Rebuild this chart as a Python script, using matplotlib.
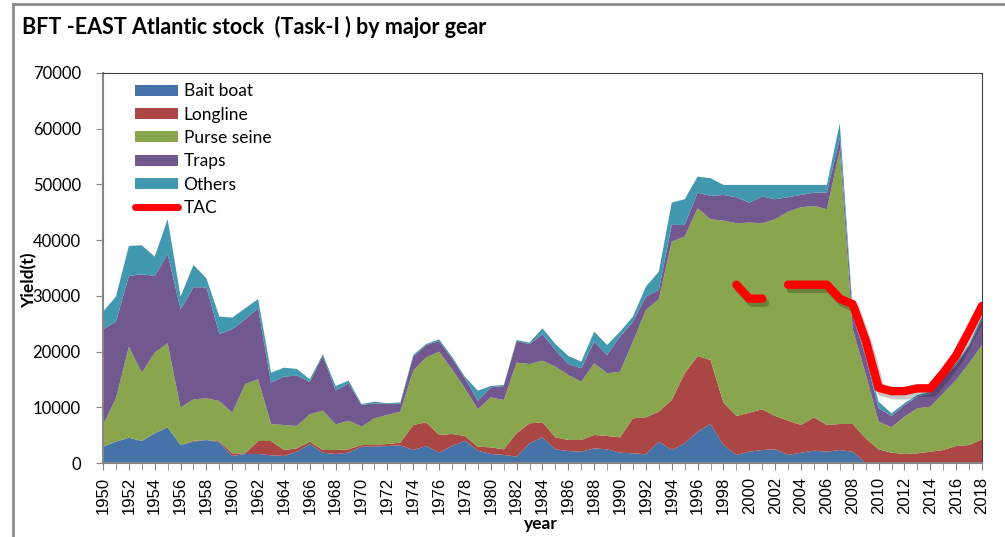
import numpy as np
import matplotlib
matplotlib.use("Agg")
import matplotlib.pyplot as plt
import matplotlib.patheffects as pe
from matplotlib.lines import Line2D
from matplotlib.patches import Patch

# catch by gear, tonnes
years = np.arange(1950, 2019)

bait_boat = [2930, 3830, 4540, 3950, 5330, 6410, 3230, 3830, 4130, 3710,
             1260, 1620, 1620, 1380, 1260, 2030, 3410, 1850, 1620, 1850,
             2930, 2930, 3050, 3170, 2330, 3050, 1850, 3050, 4000, 2210,
             1620, 1440, 1140, 3530, 4610, 2450, 2150, 2030, 2630, 2450,
             1850, 1740, 1560, 3830, 2330, 3530, 5620, 7000, 3230, 1440,
             2030, 2330, 2450, 1440, 1850, 2210, 2030, 2330, 2000, 0,
             0, 0, 0, 0, 0, 0, 0, 0, 0]
longline = [0, 0, 0, 0, 0, 0, 0, 170, 0, 190,
            480, 120, 2330, 2570, 1070, 600, 420, 480, 710, 600,
            300, 300, 360, 480, 4490, 4250, 3180, 2160, 850, 720,
            1190, 1010, 4190, 3590, 2690, 2160, 1980, 2100, 2400, 2400,
            2760, 6280, 6640, 5380, 8980, 12570, 13590, 11490, 7600, 7000,
            7000, 7310, 5990, 6160, 4970, 5990, 4790, 4670, 5000, 4430,
            2450, 1850, 1620, 1740, 2030, 2330, 3050, 3230, 4250]
purse_seine = [3890, 7770, 16340, 12260, 14470, 15080, 6700, 7430, 7480, 7230,
               7290, 12440, 11080, 3050, 4490, 4010, 4910, 7060, 4610, 5150,
               3290, 4800, 5210, 5560, 9750, 11670, 14950, 11610, 8560, 6710,
               8980, 8860, 12680, 10650, 11070, 12680, 11670, 10470, 12870, 11250,
               11780, 13760, 19270, 20180, 28420, 24530, 26510, 25260, 32670, 34590,
               34120, 33390, 35310, 37520, 39080, 37940, 38720, 49190, 17000, 11570,
               4970, 4560, 6690, 8080, 8080, 10180, 11850, 14670, 16930]
traps = [17180, 13770, 12690, 17660, 13770, 16030, 17660, 20110, 19930, 12030,
         14970, 11620, 12740, 7420, 8680, 9040, 5800, 9880, 6050, 6700,
         3890, 2690, 1980, 1440, 2520, 2210, 1920, 1970, 1790, 1550,
         1800, 2510, 3890, 3590, 4730, 3000, 1970, 2400, 3880, 3290,
         6290, 3590, 2390, 1670, 3000, 2100, 2810, 4190, 4610, 4670,
         3590, 4790, 3590, 2580, 2210, 2390, 2990, 2100, 2500, 3000,
         2400, 2030, 2110, 2090, 2400, 2690, 2700, 3000, 4490]
others = [3160, 4490, 5390, 5210, 3470, 6230, 2270, 4010, 1610, 3110,
          2090, 1970, 1670, 1790, 1610, 1200, 490, 240, 830, 480,
          180, 290, 120, 250, 300, 180, 300, 300, 300, 1800,
          230, 180, 180, 240, 1080, 1070, 1440, 1190, 1800, 1790,
          900, 900, 1790, 3280, 4010, 4610, 2870, 3170, 1800, 2210,
          3170, 2090, 2570, 2210, 1800, 1380, 1380, 2700, 700, 500,
          1190, 480, 300, 300, 300, 300, 300, 280, 600]

tac_years = [1999, 2000, 2001, 2002, 2003, 2004, 2005, 2006, 2007, 2008,
             2009, 2010, 2011, 2012, 2013, 2014, 2015, 2016, 2017, 2018]
tac = [32000, 29500, 29500, np.nan, 32000, 32000, 32000, 32000, 29500, 28500,
       22000, 13500, 12900, 12900, 13400, 13400, 16142, 19296, 23655, 28200]

labels = ["Bait boat", "Longline", "Purse seine", "Traps", "Others"]
colors = ["#4572A7", "#AA4643", "#89A54E", "#71588F", "#4198AF"]

fig = plt.figure(figsize=(10.05, 5.37), dpi=100)
ax = fig.add_axes([0.1025, 0.1378, 0.8746, 0.7263])

ax.stackplot(years, bait_boat, longline, purse_seine, traps, others,
             colors=colors, linewidth=0)
ax.plot(tac_years, tac, color="#FF0000", lw=6, solid_capstyle="round",
        solid_joinstyle="round",
        path_effects=[pe.SimpleLineShadow(offset=(2, -3), shadow_color="k", alpha=0.22),
                      pe.Normal()])

ax.set_xlim(1950, 2018)
ax.set_ylim(0, 70000)
ax.set_yticks(np.arange(0, 70001, 10000))
ax.set_xticks(np.arange(1950, 2019, 2))
ax.set_xticks(np.arange(1950, 2019, 1), minor=True)
ax.tick_params(axis="x", which="both", direction="out", length=5, color="#868686",
               labelrotation=90, labelsize=12, pad=5)
ax.tick_params(axis="y", direction="out", length=5, color="#868686",
               labelsize=12, pad=11)
for lab in ax.get_xticklabels():
    lab.set_family("Liberation Sans")
for lab in ax.get_yticklabels():
    lab.set_family("Lato")

for s in ["left", "bottom"]:
    ax.spines[s].set_color("#868686")
    ax.spines[s].set_linewidth(1.5)
for s in ["top", "right"]:
    ax.spines[s].set_color("#404040")
    ax.spines[s].set_linewidth(0.8)

handles = [Patch(facecolor=c, edgecolor="none") for c in colors]
handles.append(Line2D([0], [0], color="#FF0000", lw=5, solid_capstyle="round"))
fig.legend(handles, labels + ["TAC"], loc="upper left",
           bbox_to_anchor=(0.1343, 0.8446), frameon=False,
           prop={"family": "Lato", "size": 12.5}, handlelength=2.5,
           handleheight=0.6, handletextpad=0.3, labelspacing=0.42,
           borderpad=0, borderaxespad=0)

fig.text(0.022, 0.95, "BFT -EAST Atlantic stock  (Task-I ) by major gear",
         fontsize=15.5, fontweight="bold", family="Lato", va="center", ha="left")
fig.text(0.538, 0.024, "year", fontsize=12.5, fontweight="bold", family="Lato",
         ha="center", va="center")
fig.text(0.029, 0.478, "Yield(t)", fontsize=12.5, fontweight="bold", family="Lato",
         rotation=90, ha="center", va="center")

# outer chart frame
fig.add_artist(Line2D([0.013, 0.013], [0, 0.993], color="#8c8c8c", lw=2,
                      transform=fig.transFigure))
fig.add_artist(Line2D([0.013, 1.0], [0.993, 0.993], color="#8c8c8c", lw=2,
                      transform=fig.transFigure))

fig.savefig("out.png", dpi=100)
